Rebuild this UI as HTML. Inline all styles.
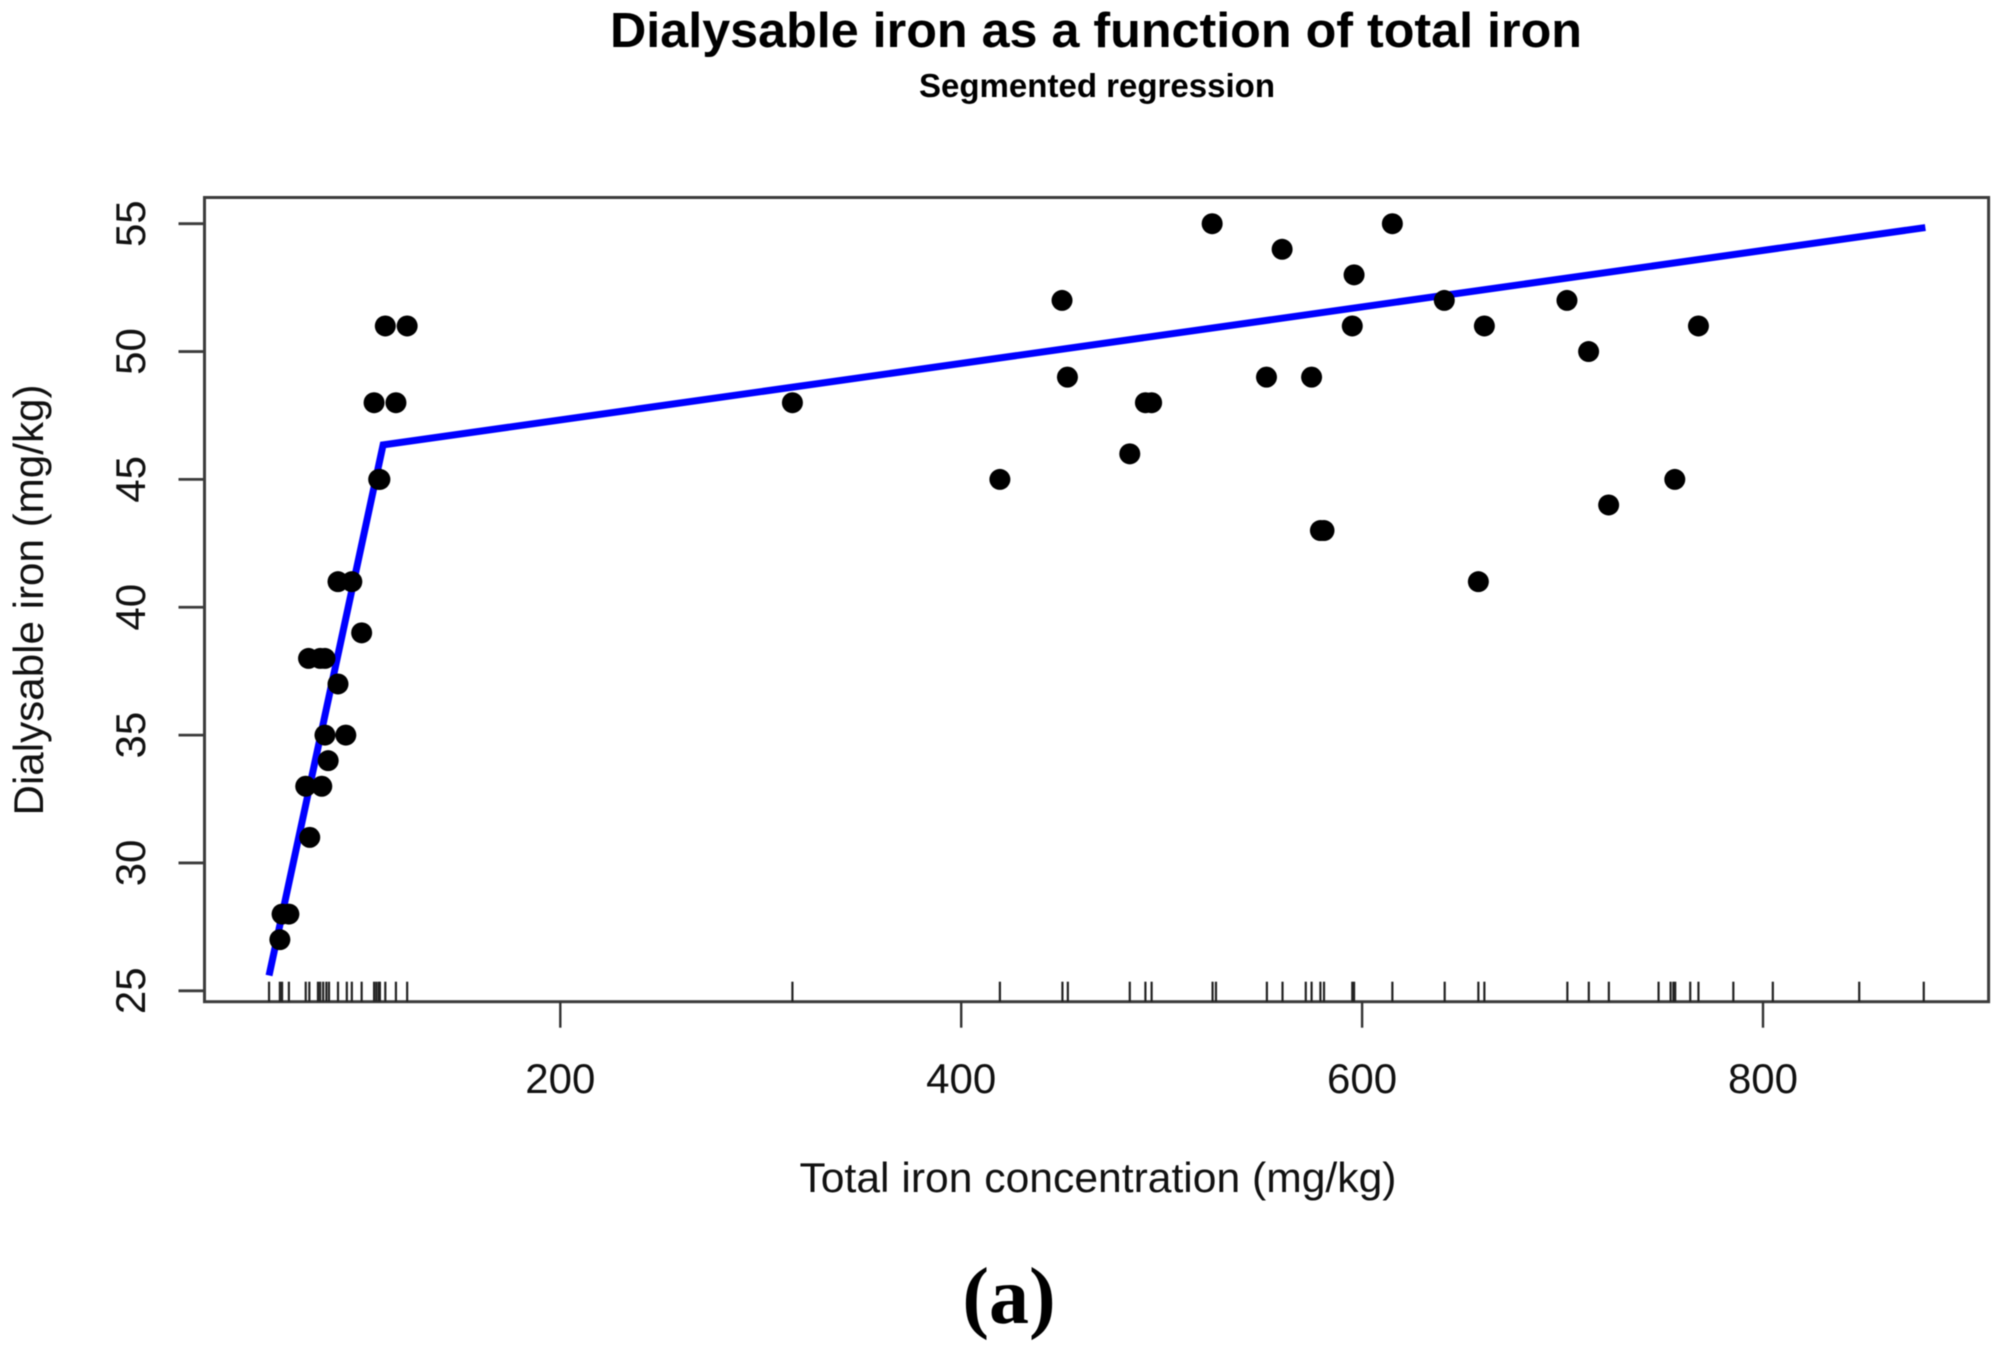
<!DOCTYPE html>
<html lang="en">
<head>
<meta charset="utf-8">
<title>Dialysable iron as a function of total iron</title>
<style>
html,body{margin:0;padding:0;background:#fff;}
svg{display:block;font-family:"Liberation Sans",Arial,sans-serif;filter:blur(0.5px);}
</style>
</head>
<body>
<svg id="chart" xmlns="http://www.w3.org/2000/svg" width="2002" height="1348" viewBox="0 0 2002 1348">
  <rect x="0" y="0" width="2002" height="1348" fill="#fff"/>
  <text x="1096" y="47" text-anchor="middle" font-size="49" font-weight="bold" fill="#000" textLength="972" lengthAdjust="spacingAndGlyphs">Dialysable iron as a function of total iron</text>
  <text x="1097" y="97" text-anchor="middle" font-size="33" font-weight="bold" fill="#000" textLength="356" lengthAdjust="spacingAndGlyphs">Segmented regression</text>
  <text x="1098" y="1192" text-anchor="middle" font-size="42" fill="#111" textLength="597" lengthAdjust="spacingAndGlyphs">Total iron concentration (mg/kg)</text>
  <text transform="translate(43 600) rotate(-90)" text-anchor="middle" font-size="42" fill="#111" textLength="431" lengthAdjust="spacingAndGlyphs">Dialysable iron (mg/kg)</text>
  <text x="1009" y="1323" text-anchor="middle" font-size="80" font-weight="bold" fill="#000" style="font-family:'Liberation Serif',serif">(a)</text>
  <g id="axes"></g>
  <g id="rug"></g>
  <g id="fit"></g>
  <g id="points"></g>
</svg>
<script>
const xTickLabels = [200, 400, 600, 800];
const yTickLabels = [25, 30, 35, 40, 45, 50, 55];

const pointX = [60.1, 61.2, 64.6, 75, 73, 81, 84.2, 82.6, 93, 89.1, 74.4, 80.2, 82.6, 100.9, 89.1, 96, 109.4, 110, 107.1, 118, 112.7, 123.6,
  315.8, 419.3, 450.3, 453, 484.1, 491.9, 495, 525.2, 552.3, 560.1, 574.8, 579.2, 581, 596, 595.1, 615.1, 641, 658, 661, 702.2, 713, 723, 756, 767.8];
const pointY = [27, 28, 28, 31, 33, 33, 34, 35, 35, 37, 38, 38, 38, 39, 41, 41, 45, 45, 48, 48, 51, 51,
  48, 45, 52, 49, 46, 48, 48, 55, 49, 54, 49, 43, 43, 53, 51, 55, 52, 41, 51, 52, 50, 44, 45, 51];

const rugValues = [54.7, 60.1, 61.2, 64.6, 73, 74.8, 79.1, 80.2, 81.7, 83.3, 84.6, 89.1, 93.5, 96, 100.9, 107.1, 108.2, 109.4, 110, 112.7, 118, 123.6,
  315.8, 419.3, 450.5, 453.2, 484.1, 491.9, 495, 525.4, 527.1, 552.5, 560.3, 571.9, 574.8, 579.2, 581, 595.1, 596, 615.1, 641.2, 658, 661, 702.4, 713.1, 723.1,
  747.9, 753.9, 755.3, 756.2, 763.7, 767.8, 785.2, 804.9, 848, 880.2];

const fitX = [54.7, 111.6, 881];
const fitY = [25.6, 46.35, 54.85];

const NS = 'http://www.w3.org/2000/svg';
function xScale(v) { return 560.3 + (v - 200) * 2.0045; }
function yScale(v) { return 990.8 - (v - 25) * 25.57; }
function make(tag, attrs, parent) {
  const el = document.createElementNS(NS, tag);
  for (const k in attrs) el.setAttribute(k, attrs[k]);
  parent.appendChild(el);
  return el;
}
const plotLeft = 204.5, plotRight = 1988.6, plotTop = 197.5, plotBottom = 1001.7;
const axes = document.getElementById('axes');

const box = make('rect', {x: plotLeft, y: plotTop, width: plotRight - plotLeft, height: plotBottom - plotTop, fill: 'none', stroke: '#3c3c3c', 'stroke-width': 3}, axes);



xTickLabels.forEach(function (v) {
  const tick = make('line', {x1: xScale(v), x2: xScale(v), y1: plotBottom, y2: plotBottom + 26, stroke: '#333', 'stroke-width': 2.4}, axes);
  
  
  const label = make('text', {x: xScale(v), y: 1093, 'text-anchor': 'middle', 'font-size': 42, fill: '#111'}, axes);
  
  
  label.textContent = v;
});

yTickLabels.forEach(function (v) {
  const tick = make('line', {x1: plotLeft - 26, x2: plotLeft, y1: yScale(v), y2: yScale(v), stroke: '#3c3c3c', 'stroke-width': 2.8}, axes);
  
  
  const label = make('text', {transform: 'translate(145 ' + yScale(v) + ') rotate(-90)', 'text-anchor': 'middle', 'font-size': 42, fill: '#111'}, axes);
  
  
  label.textContent = v;
});

const rug = document.getElementById('rug');
rugValues.forEach(function (v) {
  const mark = make('line', {x1: xScale(v), x2: xScale(v), y1: plotBottom - 20, y2: plotBottom, stroke: '#222', 'stroke-width': 2.2}, rug);
  
  
});

const fit = document.getElementById('fit');
const fitLine = make('polyline', {
  points: fitX.map(function (v, i) { return xScale(v) + ',' + yScale(fitY[i]); }).join(' '),
  fill: 'none', stroke: '#0000ff', 'stroke-width': 7, 'stroke-linejoin': 'miter'
}, fit);



const points = document.getElementById('points');
pointX.forEach(function (v, i) {
  const dot = make('circle', {cx: xScale(v), cy: yScale(pointY[i]), r: 10.5, fill: '#000'}, points);
  
  
});
</script>
</body>
</html>
